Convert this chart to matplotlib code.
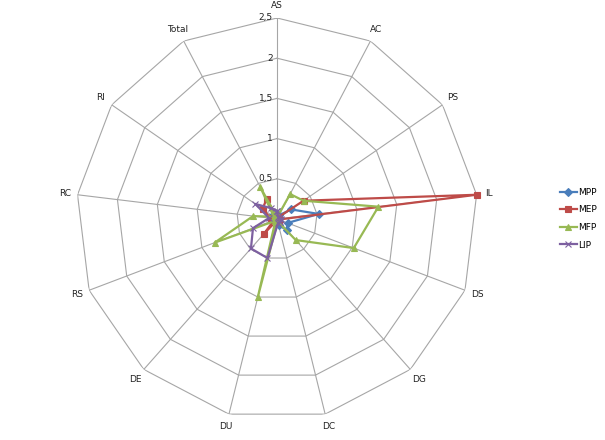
import numpy as np
import matplotlib
matplotlib.use('Agg')
import matplotlib.pyplot as plt
from matplotlib.transforms import offset_copy

# Categories (clockwise from top)
categories = ['AS', 'AC', 'PS', 'IL', 'DS', 'DG', 'DC', 'DU', 'DE', 'RS', 'RC', 'RI', 'Total']

# Series values
mpp = [0.05, 0.05, 0.21, 0.52, 0.14, 0.18, 0.08, 0.04, 0.03, 0.03, 0.05, 0.05, 0.07]
mep = [0.02, 0.02, 0.40, 2.50, 0.02, 0.02, 0.02, 0.02, 0.25, 0.04, 0.08, 0.22, 0.28]
mfp = [0.02, 0.35, 0.40, 1.27, 1.02, 0.35, 0.03, 1.00, 0.03, 0.83, 0.30, 0.05, 0.45]
lip = [0.10, 0.03, 0.03, 0.05, 0.05, 0.05, 0.05, 0.50, 0.49, 0.32, 0.10, 0.33, 0.15]

series_names = ['MPP', 'MEP', 'MFP', 'LIP']
radial_ticks = [0, 0.5, 1, 1.5, 2, 2.5]
radial_labels = ['0', '0,5', '1', '1,5', '2', '2,5']

colors = ['#4A7EBB', '#BE4B48', '#98B954', '#7D60A0']
markers = ['D', 's', '^', 'x']

n = len(categories)
theta = np.arange(n) * 2 * np.pi / n
theta_closed = np.append(theta, theta[0])

fig = plt.figure(figsize=(6.05, 4.4), dpi=100)
ax = fig.add_axes([0.1257, 0.0455, 0.6645, 0.9136], projection='polar')
ax.set_theta_zero_location('N')
ax.set_theta_direction(-1)
ax.set_ylim(0, 2.5)
ax.set_xticks([])
ax.set_yticks([])
ax.grid(False)
ax.spines['polar'].set_visible(False)
ax.patch.set_alpha(0)

grid_color = '#a6a6a6'
# polygon grid rings
for r in radial_ticks[1:]:
    ax.plot(theta_closed, [r] * (n + 1), color=grid_color, lw=0.8, zorder=1)
# spokes
for t in theta:
    ax.plot([t, t], [0, 2.5], color=grid_color, lw=0.8, zorder=1)

# radial value labels, left of the AS axis
trans = offset_copy(ax.transData, fig=fig, x=-3, y=0, units='points')
for r, lab in zip(radial_ticks, radial_labels):
    ax.text(0, r, lab, transform=trans, ha='right', va='center', fontsize=6.5, color='#222222')

# category labels
for t, c in zip(theta, categories):
    ax.text(t, 2.66, c, ha='center', va='center', fontsize=6.5, color='#222222')

handles = []
for vals, name, col, mk in zip([mpp, mep, mfp, lip], series_names, colors, markers):
    v = np.append(vals, vals[0])
    ms = 4.5 if mk != 'x' else 4
    h, = ax.plot(theta_closed, v, color=col, lw=1.6, marker=mk, markersize=ms,
                 markeredgecolor=col, markerfacecolor=col, markeredgewidth=0.8,
                 label=name, zorder=3, clip_on=False)
    handles.append(h)

fig.legend(handles=handles, loc='center left', bbox_to_anchor=(0.925, 0.503),
           frameon=False, fontsize=6.5, handlelength=1.9, handletextpad=0.1,
           labelspacing=0.95, borderpad=0, borderaxespad=0)

fig.savefig('out.png', dpi=100)
